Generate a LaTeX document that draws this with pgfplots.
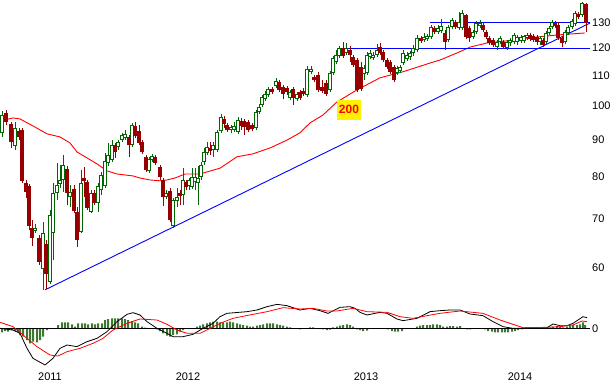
\documentclass[border=0pt]{standalone}
\usepackage{fontspec}
\setmainfont{Liberation Sans}
\usepackage{pgfplots}
\usepackage{pgfplotstable}
\pgfplotsset{compat=1.18}
\definecolor{cgreen}{RGB}{0,102,0}
\definecolor{cred}{RGB}{150,0,0}
\definecolor{mared}{RGB}{255,0,0}
\definecolor{tblue}{RGB}{0,0,255}
\definecolor{hgreen}{RGB}{60,120,45}

\pgfplotstableread{
x o h l c
2 91.8 98.5 90.7 97.2
15 88.1 95.1 87.1 93.3
35 67.4 68.9 67.0 68.1
43 59.8 69.3 56.0 67.0
50 57.4 72.0 57.0 70.9
53 67.0 78.5 61.5 76.0
57 76.0 83.5 74.4 78.0
60 78.2 83.0 77.2 79.2
63 79.2 85.7 76.2 83.0
70 75.0 78.0 72.7 76.2
81 67.2 81.7 67.0 78.5
91 71.6 76.7 71.3 76.0
98 73.7 78.5 71.6 77.7
101 76.7 81.2 75.5 80.5
105 77.7 86.3 77.2 84.1
108 83.6 89.0 82.7 85.7
112 84.4 89.8 83.9 88.4
118 87.9 89.8 87.1 89.2
122 89.8 91.9 89.2 91.3
125 90.4 92.7 89.8 91.6
132 88.4 94.8 87.9 94.2
149 81.5 85.2 81.0 84.6
152 84.4 86.0 83.9 85.4
166 75.0 76.7 74.6 76.0
173 68.5 74.9 68.1 74.4
177 74.2 77.2 72.7 75.0
183 75.5 82.2 73.2 79.2
189 77.7 79.7 76.7 79.2
192 77.5 82.2 77.0 80.0
195 78.7 82.2 76.7 80.0
198 78.5 82.7 73.2 79.7
201 80.0 83.9 79.2 83.0
204 83.9 87.6 83.0 86.5
207 86.2 89.2 85.7 87.9
213 87.1 89.2 85.2 88.4
217 87.1 92.7 86.5 92.1
221 92.4 97.5 91.9 96.6
231 92.7 94.2 91.9 93.6
234 92.7 95.1 92.1 93.9
238 92.1 96.6 91.6 95.7
256 93.3 98.8 92.7 98.2
259 98.2 100.6 97.5 99.7
262 100.3 103.6 99.7 102.9
265 102.2 104.9 101.6 103.9
268 103.6 106.2 102.9 105.5
276 106.6 109.3 105.9 108.3
290 102.6 105.2 101.9 104.5
297 102.2 104.5 101.6 103.9
307 103.6 113.4 102.9 112.4
311 111.4 113.4 110.7 112.4
330 105.2 111.7 104.5 111.0
333 111.0 117.1 110.3 116.3
336 114.9 119.3 114.2 117.5
339 117.1 120.8 116.4 120.1
346 118.2 122.0 117.5 120.1
364 110.7 113.8 108.6 112.8
367 111.0 118.6 110.3 117.5
370 116.8 119.3 116.0 118.2
373 116.3 118.6 115.6 117.5
377 117.5 121.6 116.8 119.3
397 111.0 113.4 110.3 112.8
400 111.7 113.8 111.0 113.1
403 114.5 119.3 113.8 118.2
407 116.0 118.6 115.2 117.5
410 116.8 118.9 115.6 118.2
413 118.2 121.2 117.1 120.1
417 119.3 125.1 118.6 124.0
424 123.2 125.9 122.4 124.3
427 123.6 125.5 122.8 124.7
431 124.3 129.1 123.6 128.3
438 126.3 129.1 125.5 127.9
441 126.7 131.6 125.9 128.7
448 123.2 129.1 122.4 128.3
452 128.3 132.0 127.5 131.2
459 127.9 134.6 127.1 130.4
462 127.9 135.4 127.1 134.1
473 124.3 127.1 123.6 126.3
476 126.3 130.8 125.5 129.9
480 128.7 131.2 127.9 129.9
497 120.4 123.2 119.3 122.4
500 122.4 124.7 121.6 124.0
507 120.1 123.2 119.3 122.4
510 122.0 124.0 120.8 123.2
514 122.4 125.9 121.6 125.1
517 122.4 125.1 121.2 124.3
521 122.8 125.1 122.0 124.3
524 122.8 125.1 122.0 124.7
527 124.0 125.9 123.2 125.1
540 122.4 124.7 121.2 124.0
546 122.4 126.7 121.6 125.9
549 125.9 128.7 125.1 127.9
552 128.3 131.2 127.5 130.4
565 122.4 127.1 121.6 126.3
568 125.9 129.1 125.1 128.3
572 128.3 131.6 127.5 130.8
575 129.5 135.0 128.7 134.1
582 133.3 138.9 132.5 138.4
}\greentab

\pgfplotstableread{
x o h l c
6 97.8 98.8 94.2 95.1
11 94.5 95.1 87.6 89.2
19 92.4 93.3 89.8 90.7
22 92.7 93.3 78.5 79.0
26 78.5 79.2 74.9 76.2
29 77.7 78.2 67.6 68.5
32 68.1 69.8 64.3 66.0
39 66.0 66.6 60.6 61.1
46 64.7 65.5 56.2 58.9
67 82.0 82.7 73.2 76.0
74 77.0 78.0 71.3 71.8
77 71.6 72.7 64.1 65.5
84 79.7 82.5 75.0 79.0
87 78.7 79.2 72.0 72.5
94 76.0 76.7 73.2 73.7
115 88.4 89.0 84.9 86.5
129 90.7 91.3 85.2 88.4
135 93.9 95.1 90.4 91.0
139 92.4 94.2 88.4 89.0
142 89.2 89.8 86.0 86.5
146 85.2 85.7 81.2 81.7
155 85.2 85.7 83.0 83.6
160 82.5 83.0 79.2 80.0
163 79.2 79.7 73.0 75.0
170 76.5 77.2 69.4 69.8
180 76.0 76.7 73.2 75.3
186 78.7 79.2 76.7 77.5
210 87.6 89.2 85.7 86.8
224 96.0 96.9 93.3 94.5
227 94.2 94.8 92.1 92.7
241 95.4 96.3 92.7 93.9
244 95.4 96.0 91.3 93.6
248 95.1 95.7 92.1 92.7
252 94.2 94.8 92.4 93.0
272 105.5 106.2 103.9 104.5
279 107.9 108.6 104.5 105.2
283 106.2 106.9 102.2 103.9
287 105.9 106.6 103.6 104.5
293 105.5 106.2 100.3 102.6
300 104.5 105.2 101.9 102.6
303 104.9 105.9 103.2 103.9
314 109.6 110.3 107.9 108.6
318 110.3 111.4 104.5 105.2
322 106.2 108.6 104.2 104.9
326 107.6 108.6 103.2 103.9
343 120.1 122.4 116.4 117.1
350 119.3 120.8 114.9 117.5
353 116.8 117.5 113.1 113.8
357 115.6 116.3 104.5 105.2
361 113.1 114.9 104.9 105.5
380 120.4 122.0 117.5 118.2
383 118.6 119.3 114.9 115.6
387 115.6 116.3 112.4 113.1
390 114.9 115.6 110.7 111.4
394 113.1 113.8 107.9 108.6
421 124.0 124.7 122.0 122.8
434 127.9 128.7 125.5 126.3
445 125.9 127.1 119.3 122.4
455 130.4 131.2 127.5 128.3
466 133.3 133.7 123.6 124.3
469 127.9 128.7 122.4 124.0
483 129.1 130.4 126.3 127.1
486 126.3 127.1 123.6 124.3
489 124.0 124.7 121.2 122.0
493 123.2 124.0 120.4 121.2
503 122.4 123.2 119.7 120.4
530 125.1 125.9 122.8 123.6
533 124.7 125.5 122.4 123.2
537 124.3 125.1 121.2 122.4
543 123.2 124.0 120.4 121.2
555 129.9 130.8 127.9 128.7
558 129.1 130.4 123.2 124.0
562 124.0 124.7 120.4 122.0
578 133.7 134.6 131.6 132.5
586 138.0 138.4 126.3 129.9
}\redtab

\begin{document}
\begin{tikzpicture}
\useasboundingbox (0pt,0pt) rectangle (611pt,384pt);
\begin{axis}[
  at={(0pt,89pt)}, anchor=south west,
  scale only axis, width=590pt, height=295pt,
  xmin=0, xmax=590, ymin=55.1, ymax=139.7,
  ymode=log,
  axis line style={draw=none},
  xtick=\empty,
  ytick={60,70,80,90,100,110,120,130},
  yticklabels={60,70,80,90,100,110,120,130},
  minor ytick={},
  ytick pos=right,
  major tick length=0pt,
  yticklabel style={font=\fontsize{11}{11}\selectfont, anchor=west, inner sep=0pt, xshift=2pt},
]
% 200-period moving average
\addplot[mared, line width=0.9pt] coordinates {
(0,95.4) (13,96.3) (20,96.0) (33,93.9) (47,91.6) (60,90.7) (70,89.0) (77,86.5)
(87,84.9) (97,83.3) (107,81.5) (117,80.7) (133,80.2) (140,79.7) (150,79.2)
(160,79.0) (167,79.2) (175,79.7) (185,80.7) (200,80.7) (220,82.2) (237,85.2)
(253,86.0) (270,87.6) (287,89.8) (300,91.9) (310,94.8) (323,97.2) (337,101.3)
(357,105.2) (380,109.3) (403,111.4) (430,114.5) (440,115.6) (457,118.2)
(470,120.4) (487,122.0) (507,122.8) (530,124.0) (557,125.1) (585,125.9)};
% trend and support lines
\addplot[tblue, line width=0.9pt] coordinates {(45,56.0) (590,129.9)};
\addplot[tblue, line width=0.9pt] coordinates {(338,120.0) (590,120.0)};
\addplot[tblue, line width=0.9pt] coordinates {(430,130.0) (590,130.0)};
% wicks
\addplot[draw=none, mark=none, error bars/.cd, y dir=plus, y explicit, error mark=none,
  error bar style={line width=1pt, draw=cgreen}]
  table[x=x, y=l, y error plus expr=\thisrow{h}-\thisrow{l}] {\greentab};
\addplot[draw=none, mark=none, error bars/.cd, y dir=plus, y explicit, error mark=none,
  error bar style={line width=1pt, draw=cred}]
  table[x=x, y=l, y error plus expr=\thisrow{h}-\thisrow{l}] {\redtab};
% bodies
\addplot[draw=none, mark=none, error bars/.cd, y dir=plus, y explicit, error mark=none,
  error bar style={line width=3.4pt, draw=cgreen}]
  table[x=x, y=o, y error plus expr=\thisrow{c}-\thisrow{o}] {\greentab};
\addplot[draw=none, mark=none, error bars/.cd, y dir=plus, y explicit, error mark=none,
  error bar style={line width=1.4pt, draw=white, shorten <=1pt, shorten >=1pt}]
  table[x=x, y=o, y error plus expr=\thisrow{c}-\thisrow{o}] {\greentab};
\addplot[draw=none, mark=none, error bars/.cd, y dir=plus, y explicit, error mark=none,
  error bar style={line width=3.4pt, draw=cred}]
  table[x=x, y=c, y error plus expr=\thisrow{o}-\thisrow{c}] {\redtab};
\node[fill=yellow, text=mared, font=\bfseries\fontsize{12}{12}\selectfont,
  minimum width=24pt, minimum height=20pt, inner sep=0pt] at (axis cs:349,98.8) {200};
\end{axis}

\begin{axis}[
  at={(0pt,14pt)}, anchor=south west,
  scale only axis, width=590pt, height=75pt,
  xmin=0, xmax=590, ymin=-12.5, ymax=10,
  axis line style={draw=none},
  xtick={50,188,366,520},
  xticklabels={2011,2012,2013,2014},
  ytick={0}, yticklabels={0},
  ytick pos=right,
  major tick length=0pt,
  xticklabel style={font=\fontsize{11}{11}\selectfont, anchor=center, yshift=-7pt},
  yticklabel style={font=\fontsize{11}{11}\selectfont, anchor=west, inner sep=0pt, xshift=2pt},
]
\addplot[ybar, bar width=2pt, fill=hgreen, draw=none] coordinates {
(2,-1.2) (5,-0.8) (8,-1.0) (12,-0.6) (15,-0.8) (18,-1.2) (20,-2.0) (23,-2.5)
(27,-3.5) (30,-4.5) (33,-4.0) (37,-4.2) (40,-3.5) (43,-2.5) (47,-0.5)
(58,1.0) (62,1.8) (65,1.8) (68,1.8) (72,1.2) (75,0.5) (78,1.5) (82,1.5)
(85,1.5) (88,1.2) (92,1.5) (95,1.2) (98,1.5) (102,1.5) (105,2.5) (108,2.8)
(112,3.0) (115,3.0) (118,3.0) (122,3.0) (125,2.8) (128,2.5) (132,2.2)
(135,1.8) (138,1.5) (142,0.5) (145,0.2)
(157,-0.3) (160,-0.8) (163,-1.5) (167,-2.2) (170,-2.5) (173,-2.0) (177,-1.8)
(180,-1.0) (183,-0.5)
(197,0.5) (200,0.8) (203,1.2) (207,1.5) (210,1.8) (213,2.0) (217,2.0)
(220,1.8) (223,1.8) (227,1.8) (230,2.0) (233,1.8) (237,1.5) (240,1.2)
(243,1.0) (247,0.8) (250,0.5) (253,0.5) (257,0.8) (260,1.0) (263,1.2)
(267,1.5) (270,1.5) (273,1.5) (277,1.2) (280,1.0) (283,0.8) (287,0.5) (290,0.3)
(300,-0.3) (310,0.3) (313,0.3) (320,-0.2) (323,-0.3) (327,-0.5) (330,-0.4)
(333,0.3) (337,0.5) (340,0.8) (343,1.0) (347,1.2) (350,1.0) (353,0.5)
(357,-0.3) (360,-0.5) (363,-0.8) (367,-0.7)
(388,-0.3) (392,-0.8) (395,-1.0) (398,-1.0) (402,-0.8)
(417,0.5) (420,0.8) (423,1.0) (427,1.0) (430,1.0) (433,1.2) (437,1.2)
(440,1.0) (443,0.5) (447,0.5) (450,0.7) (453,0.7) (457,0.5) (460,0.7)
(467,-0.3) (470,-0.3)
(485,-0.3) (488,-0.8) (492,-1.0) (495,-1.2) (498,-1.2) (502,-1.2) (505,-1.2)
(508,-1.2) (512,-1.0) (515,-0.8) (518,-0.5) (522,-0.3)
(548,0.3) (553,0.5) (557,0.7) (560,0.5) (563,0.3) (567,0.5) (570,0.8)
(573,1.0) (577,1.0) (580,1.2) (583,1.8) (585,1.0)};
\addplot[black, line width=1pt] coordinates {(0,0) (590,0)};
\addplot[black, line width=0.8pt] coordinates {
(0,0) (13,-0.5) (20,-1.5) (27,-6) (33,-9) (45,-11) (53,-9) (60,-6) (67,-5)
(77,-5.5) (87,-4) (97,-3) (107,-1) (117,2) (127,4.2) (133,4.7) (140,4)
(147,2) (157,0) (167,-1.5) (173,-2.5) (183,-2.5) (193,-1.8) (203,0) (213,1.5)
(220,3.5) (227,4.5) (247,5) (257,5.5) (267,6.5) (277,7.2) (287,6.8) (300,5.5)
(310,6) (320,5.3) (328,4.5) (340,6.3) (350,6.5) (355,6) (360,4.8) (367,4)
(380,4.8) (387,4.5) (397,2.8) (403,2.3) (417,3) (430,5) (440,5.3) (450,5.5)
(460,5.5) (470,4.3) (483,3.8) (493,2) (503,0.5) (513,0) (523,0) (547,0.2)
(553,1.3) (560,0.8) (567,0.8) (573,1.5) (583,3.5) (587,3.2)};
\addplot[mared, line width=0.8pt] coordinates {
(0,1.8) (13,0.5) (27,-3) (37,-5.5) (50,-8) (58,-8.3) (67,-7) (80,-6)
(93,-4.5) (103,-3) (113,-0.5) (127,1.5) (140,2.8) (157,2.5) (167,1.2)
(177,-0.5) (187,-1.5) (200,-1.5) (210,0) (220,1.5) (233,3) (253,4.2) (267,5)
(283,6.2) (300,5.8) (313,6) (327,5.2) (337,5.2) (353,6) (367,5) (387,4.8)
(400,3.5) (413,3) (427,3.8) (440,4.5) (460,5.2) (473,4.8) (483,4.5)
(500,2.5) (513,1.2) (523,0.2) (547,0.3) (560,0.5) (573,1) (582,2.2) (587,2)};
\end{axis}
\end{tikzpicture}
\end{document}
